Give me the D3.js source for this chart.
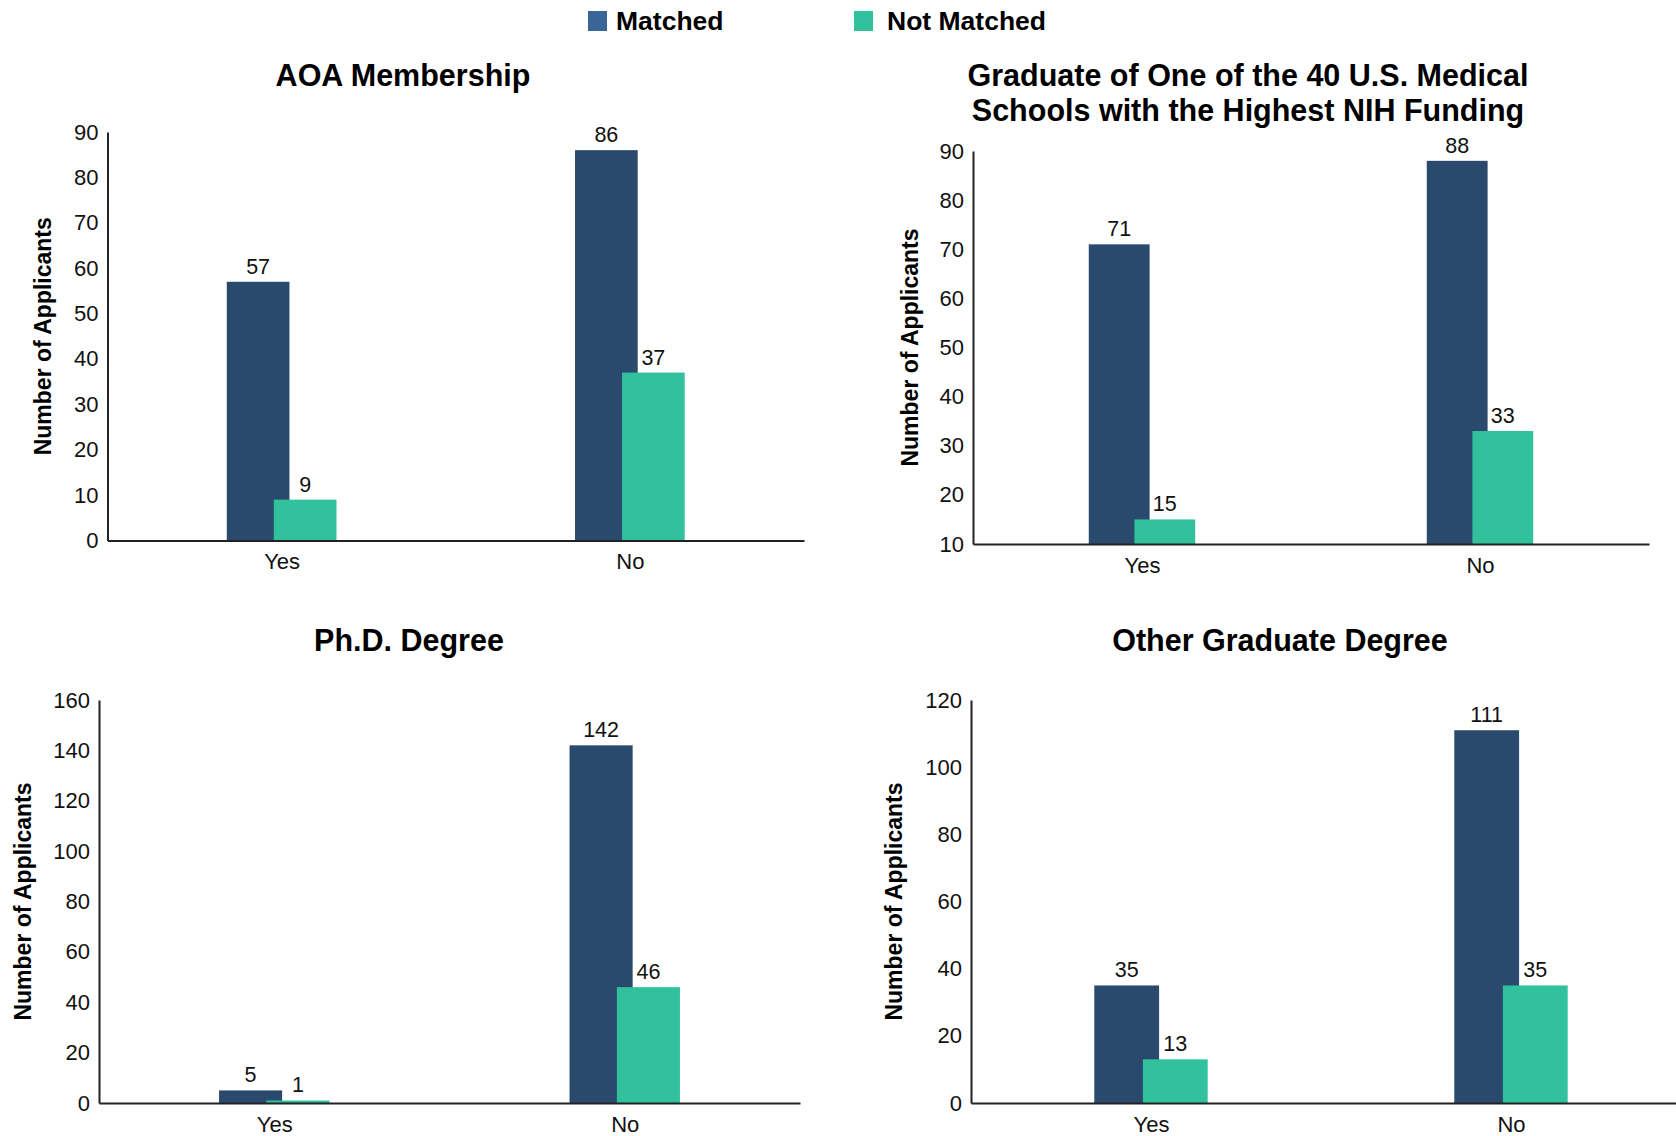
<!DOCTYPE html>
<html>
<head>
<meta charset="utf-8">
<script src="https://cdn.jsdelivr.net/npm/d3@7"></script>
<style>
  html, body { margin: 0; padding: 0; background: #ffffff; }
  svg { display: block; font-family: "Liberation Sans", Arial, Helvetica, sans-serif; }
</style>
</head>
<body>
<svg id="chart" width="1676" height="1136"></svg>
<script>
// ---------- data ----------
const categories = ["Yes", "No"];
const seriesNames = ["Matched", "Not Matched"];
const panelTitles = [
  ["AOA Membership"],
  ["Graduate of One of the 40 U.S. Medical", "Schools with the Highest NIH Funding"],
  ["Ph.D. Degree"],
  ["Other Graduate Degree"]
];
const matchedValues = [[57, 86], [71, 88], [5, 142], [35, 111]];
const notMatchedValues = [[9, 37], [15, 33], [1, 46], [13, 35]];
const yDomains = [[0, 90], [10, 90], [0, 160], [0, 120]];
const yTickLabels = [
  [0, 10, 20, 30, 40, 50, 60, 70, 80, 90],
  [10, 20, 30, 40, 50, 60, 70, 80, 90],
  [0, 20, 40, 60, 80, 100, 120, 140, 160],
  [0, 20, 40, 60, 80, 100, 120]
];
const yAxisTitle = "Number of Applicants";

// ---------- layout & style ----------
const colors = { matched: "#29496d", notMatched: "#31c19c", legendMatched: "#3a6598", axis: "#222222" };
const layout = [
  { x0: 107.5, x1: 804, yTop: 132, yBase: 540.5, titleX: 403, titleY: 86, ylabX: 43 },
  { x0: 973, x1: 1649, yTop: 151, yBase: 544, titleX: 1248, titleY: 86, ylabX: 910 },
  { x0: 99, x1: 800, yTop: 700, yBase: 1103, titleX: 409, titleY: 651, ylabX: 23 },
  { x0: 971, x1: 1691, yTop: 700, yBase: 1103, titleX: 1280, titleY: 651, ylabX: 894 }
];

const svg = d3.select("#chart");

// legend
const legend = svg.append("g");
const legendItems = [
  { name: seriesNames[0], color: colors.legendMatched, sx: 588, tx: 616 },
  { name: seriesNames[1], color: colors.notMatched, sx: 854, tx: 887 }
];
legendItems.forEach(d => {
  legend.append("rect").attr("x", d.sx).attr("y", 11).attr("width", 19).attr("height", 20).attr("fill", d.color);
  legend.append("text").attr("x", d.tx).attr("y", 30).attr("font-size", 26.5).attr("font-weight", "bold")
    .attr("fill", "#000").text(d.name);
});

layout.forEach((L, i) => {
  const g = svg.append("g");
  const W = L.x1 - L.x0;
  const x = d3.scalePoint().domain(categories).range([L.x0, L.x1]).padding(0.5);
  const y = d3.scaleLinear().domain(yDomains[i]).range([L.yBase, L.yTop]);
  const bw = 0.09 * W;
  const off = 0.75 * bw;

  // title
  const t = g.append("text").attr("text-anchor", "middle").attr("font-size", 30.5).attr("font-weight", "bold").attr("fill", "#000");
  panelTitles[i].forEach((line, k) => {
    t.append("tspan").attr("x", L.titleX).attr("y", L.titleY + k * 35).text(line);
  });

  // bars
  const rows = categories.map((c, j) => ({ cat: c, m: matchedValues[i][j], n: notMatchedValues[i][j] }));
  const base = yDomains[i][0];
  rows.forEach(r => {
    const cx = x(r.cat);
    const mx = cx - 0.875 * bw;
    const nx = mx + off;
    g.append("rect").attr("x", mx).attr("y", y(r.m)).attr("width", bw).attr("height", y(base) - y(r.m)).attr("fill", colors.matched);
    g.append("rect").attr("x", nx).attr("y", y(r.n)).attr("width", bw).attr("height", y(base) - y(r.n)).attr("fill", colors.notMatched);
    g.append("text").attr("x", mx + bw / 2).attr("y", y(r.m) - 8).attr("text-anchor", "middle").attr("font-size", 21.5).attr("fill", "#111").text(r.m);
    g.append("text").attr("x", nx + bw / 2).attr("y", y(r.n) - 8).attr("text-anchor", "middle").attr("font-size", 21.5).attr("fill", "#111").text(r.n);
  });

  // y axis
  const ya = g.append("g").attr("transform", `translate(${L.x0},0)`)
    .call(d3.axisLeft(y).tickValues(yTickLabels[i]).tickSize(0).tickSizeOuter(0).tickPadding(9).tickFormat(d3.format("d")));
  ya.select(".domain").attr("stroke", colors.axis).attr("stroke-width", 2);
  ya.selectAll("text").attr("font-size", 22).attr("fill", "#111").attr("font-family", "Liberation Sans, Arial, sans-serif");

  // x axis
  const xa = g.append("g").attr("transform", `translate(0,${L.yBase})`)
    .call(d3.axisBottom(x).tickSize(0).tickSizeOuter(0).tickPadding(13));
  xa.select(".domain").attr("stroke", colors.axis).attr("stroke-width", 2);
  xa.selectAll("text").attr("font-size", 22).attr("fill", "#111").attr("font-family", "Liberation Sans, Arial, sans-serif");

  // y axis title
  const cy = (L.yTop + L.yBase) / 2;
  g.append("text").attr("transform", `translate(${L.ylabX},${cy}) rotate(-90)`).attr("text-anchor", "middle")
    .attr("dy", "0.35em").attr("font-size", 23).attr("font-weight", "bold").attr("fill", "#000").text(yAxisTitle);
});
</script>
</body>
</html>
